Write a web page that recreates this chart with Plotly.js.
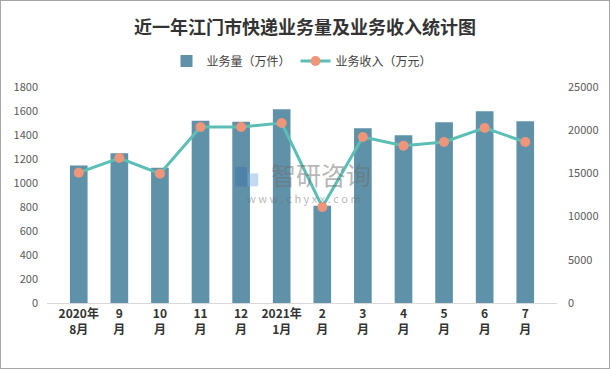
<!DOCTYPE html>
<html><head><meta charset="utf-8">
<script src="https://cdn.plot.ly/plotly-3.0.1.min.js"></script>
<style>
html,body{margin:0;padding:0;background:#fff;}
#chart{width:608px;height:367px;border:1px solid #a6a6a6;}
</style></head>
<body><div id="chart"></div>
<script>
const categories = ['2020年<br>8月','9<br>月','10<br>月','11<br>月','12<br>月','2021年<br>1月','2<br>月','3<br>月','4<br>月','5<br>月','6<br>月','7<br>月'];
const volume = [1145, 1247, 1128, 1519, 1511, 1614, 811, 1456, 1397, 1506, 1597, 1514];
const revenue = [15080, 16780, 14970, 20370, 20370, 20830, 11110, 19210, 18210, 18630, 20260, 18630];
const leftTicks = [0,200,400,600,800,1000,1200,1400,1600,1800];
const rightTicks = [0,5000,10000,15000,20000,25000];

const font = '"Noto Sans CJK SC", "Noto Sans", sans-serif';
const data = [
  {type:'bar', x:categories, y:volume, name:'业务量（万件）',
   marker:{color:'#5f91a8'}, yaxis:'y'},
  {type:'scatter', mode:'lines+markers', x:categories, y:revenue, name:'业务收入（万元）',
   line:{color:'#5bbfb5', width:3}, marker:{color:'#f0957a', size:10}, yaxis:'y2'}
];
const wm = 'rgba(110,110,110,0.5)';
const layout = {
  width:608, height:367,
  margin:{l:46, r:52, t:86, b:65},
  paper_bgcolor:'#fff', plot_bgcolor:'#fff',
  font:{family:font, color:'#595959', size:11},
  title:{text:'<b>近一年江门市快递业务量及业务收入统计图</b>', x:0.5, xanchor:'center', y:0.928, yanchor:'middle',
         font:{size:18, color:'#333333', family:font}},
  showlegend:true,
  legend:{orientation:'h', x:0.5, xanchor:'center', y:1.12, yanchor:'middle',
          font:{size:12, color:'#404040'}, traceorder:'normal'},
  bargap:0.565,
  xaxis:{showgrid:false, showline:true, linecolor:'#d9d9d9', linewidth:1, ticks:'',
         tickfont:{size:12, color:'#333333', family:font, weight:'bold'}, fixedrange:true},
  yaxis:{range:[0,1800], tickvals:leftTicks, showgrid:false, zeroline:false, showline:false,
         ticks:'', ticklabelstandoff:8, tickfont:{size:11, color:'#595959'}},
  yaxis2:{range:[0,25000], tickvals:rightTicks, ticktext:rightTicks.map(String), overlaying:'y', side:'right', showgrid:false,
          zeroline:false, showline:false, ticks:'', ticklabelstandoff:10, tickfont:{size:11, color:'#595959'}},
  shapes:[
    {type:'rect', xref:'paper', yref:'paper', x0:0.369, x1:0.392, y0:0.54, y1:0.63,
     fillcolor:'rgba(60,110,170,0.45)', line:{width:0}},
    {type:'rect', xref:'paper', yref:'paper', x0:0.394, x1:0.414, y0:0.54, y1:0.60,
     fillcolor:'rgba(120,170,220,0.45)', line:{width:0}}
  ],
  annotations:[
    {xref:'paper', yref:'paper', x:0.537, y:0.595, yanchor:'middle', text:'智研咨询', showarrow:false,
     font:{size:25, color:wm, family:font}},
    {xref:'paper', yref:'paper', x:0.503, y:0.485, yanchor:'middle', text:'w w w . c h y x x . c o m', showarrow:false,
     font:{size:11, color:wm, family:font}}
  ]
};
Plotly.newPlot('chart', data, layout, {displayModeBar:false, staticPlot:true});
</script></body></html>
